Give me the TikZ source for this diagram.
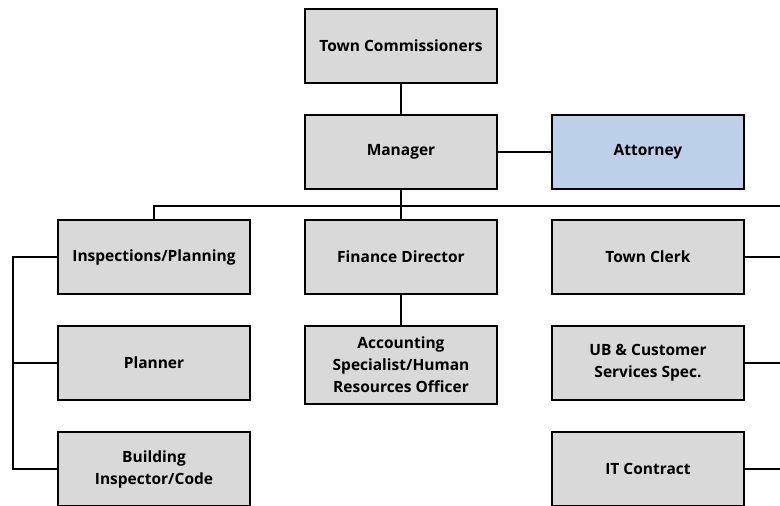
\documentclass[tikz,border=0pt]{standalone}
\usepackage{fontspec}
\setmainfont{Open Sans}
\usetikzlibrary{positioning}
\definecolor{boxgray}{RGB}{217,217,217}
\definecolor{lawblue}{RGB}{189,208,234}

\begin{document}
\begin{tikzpicture}[
		base/.style = {draw=black, line width=1.6pt, fill=boxgray, minimum width=192pt, minimum height=74pt, outer sep=0pt, align=center, font=\bfseries\fontsize{15.5}{22}\selectfont},
		office/.style = {rectangle, base},
		node distance=32pt and 55pt,
		line width=1.6pt
		]
		\useasboundingbox (0,0) rectangle (780pt,-506pt);
		\node (town) [office] at (401pt,-46pt) {Town Commissioners};
		\node (mgr) [office,below=of town] {Manager};
		\node (atty) [office,fill=lawblue,right=of mgr] {Attorney};
		\node (fin) [office,below=31pt of mgr] {Finance Director};
		\node (insp) [office,left=of fin] {Inspections/Planning};
		\node (clerk) [office,right=of fin] {Town Clerk};
		\node (plan) [office,below=of insp] {Planner};
		\node (bldg) [office,below=of plan] {Building\\Inspector/Code};
		\node (acct) [office,below=of fin,minimum height=78pt] {Accounting\\Specialist/Human\\Resources Officer};
		\node (ub) [office,below=of clerk] {UB \& Customer\\Services Spec.};
		\node (it) [office,below=of ub] {IT Contract};
		
		\coordinate (bus) at (780pt,-206pt);
		\coordinate (spine) at (13pt,0);
		\coordinate (edge) at (780pt,0);
		
		\draw (town) -- (mgr);
		\draw (mgr) -- (atty);
		\draw (mgr.south) -- (fin.north);
		\draw (insp.north) |- (bus);
		\draw (fin) -- (acct);
		\draw (insp.west) -- (insp.west -| spine) -- (bldg.west -| spine) -- (bldg.west);
		\draw (plan.west) -- (plan.west -| spine);
		\draw (clerk.east) -- (clerk.east -| edge);
		\draw (ub.east) -- (ub.east -| edge);
		\draw (it.east) -- (it.east -| edge);
	\end{tikzpicture}
\end{document}
